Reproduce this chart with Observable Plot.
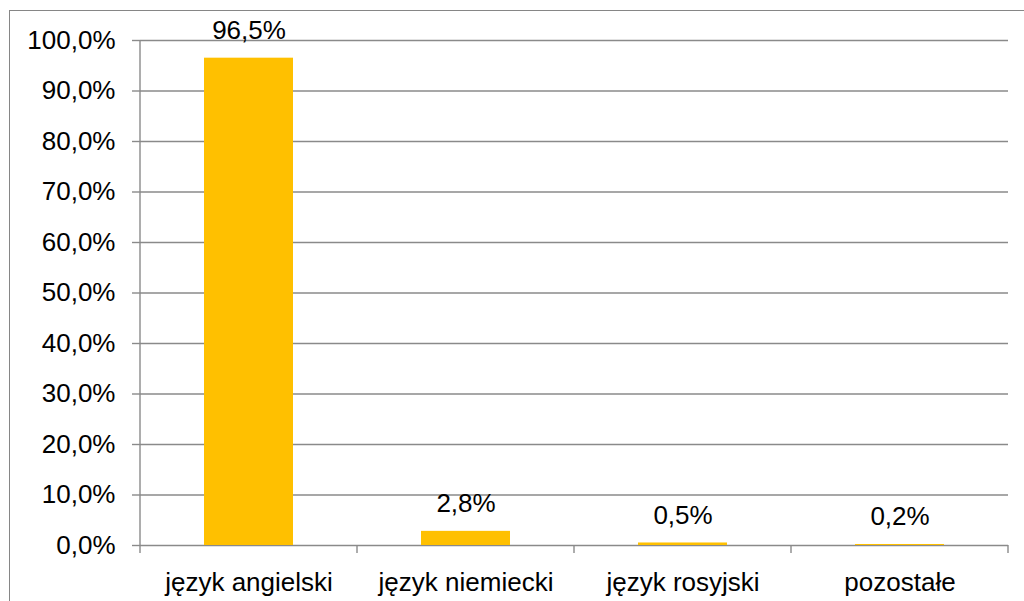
<!DOCTYPE html>
<html><head><meta charset="utf-8">
<script src="https://cdn.jsdelivr.net/npm/d3@7"></script>
<script src="https://cdn.jsdelivr.net/npm/@observablehq/plot@0.6"></script>
<style>
html,body{margin:0;padding:0;background:#fff;overflow:hidden;}
#wrap{position:relative;width:1024px;height:601px;overflow:hidden;}
#border{position:absolute;left:9px;top:10px;width:1100px;height:700px;border:1px solid #868686;box-sizing:border-box;}
#chart{position:absolute;left:0;top:0;}
</style></head><body>
<div id="wrap"><div id="border"></div><div id="chart"></div></div>
<script>
const categories = ["język angielski", "język niemiecki", "język rosyjski", "pozostałe"];
const values = [0.965, 0.028, 0.005, 0.002];
const yTicks = [0, 0.1, 0.2, 0.3, 0.4, 0.5, 0.6, 0.7, 0.8, 0.9, 1.0];

const gridColor = "#8a8a8a";
const barColor = "#FFC000";
const fmt = d => (d * 100).toFixed(1).replace(".", ",") + "%";
const data = categories.map((c, i) => ({category: c, value: values[i]}));

function categoryTicks(index, scales) {
  const x = scales.x, y = scales.y;
  const step = x(categories[1]) - x(categories[0]);
  const y0 = y(0);
  const xs = categories.map(c => x(c)).concat([x(categories[categories.length - 1]) + step]);
  const g = d3.create("svg:g").attr("stroke", gridColor).attr("stroke-width", 1.4);
  xs.forEach(px => g.append("line")
    .attr("x1", px).attr("x2", px)
    .attr("y1", y0).attr("y2", y0 + 8));
  g.append("line")
    .attr("x1", xs[0]).attr("x2", xs[0])
    .attr("y1", y(1)).attr("y2", y0);
  return g.node();
}

const chart = Plot.plot({
  width: 1024,
  height: 601,
  marginLeft: 140,
  marginRight: 16,
  marginTop: 40,
  marginBottom: 56,
  style: {fontFamily: "'Liberation Sans', Arial, sans-serif", fontSize: "26px", color: "black", background: "transparent"},
  x: {domain: categories, padding: 0, label: null},
  y: {domain: [0, 1], label: null},
  marks: [
    Plot.ruleY(yTicks, {stroke: gridColor, strokeWidth: 1.4}),
    Plot.barY(data, {x: "category", y: "value", fill: barColor, insetLeft: 64, insetRight: 64}),
    Plot.text(data, {x: "category", y: "value", text: d => fmt(d.value), dy: -27.5, fontSize: 26, fill: "black"}),
    Plot.axisY(yTicks, {tickSize: 8, tickPadding: 17, tickFormat: fmt, stroke: gridColor, strokeWidth: 1.4, fill: "black", fontSize: 26, label: null}),
    Plot.axisX({tickSize: 0, tickPadding: 27, fill: "black", fontSize: 26, label: null}),
    categoryTicks
  ]
});
document.getElementById("chart").appendChild(chart);
</script>
</body></html>
